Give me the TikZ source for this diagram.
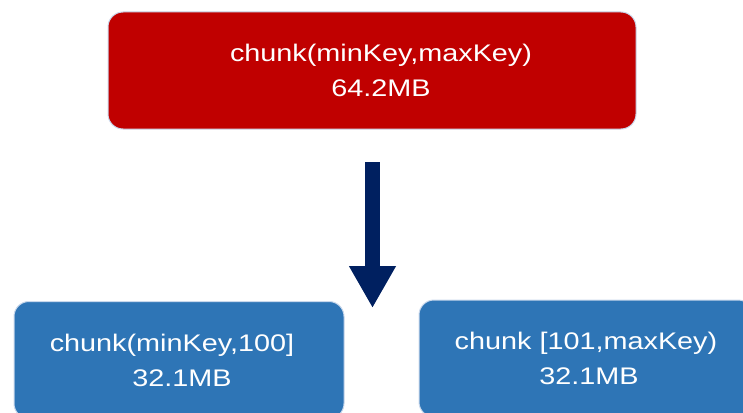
\documentclass[tikz,border=0pt]{standalone}
\usepackage{fontspec}
\setmainfont{Liberation Sans}[FakeStretch=1.2]
\usetikzlibrary{arrows.meta}

\definecolor{chunkred}{HTML}{C00000}
\definecolor{chunkblue}{HTML}{2E75B6}
\definecolor{splitnavy}{HTML}{002060}
\definecolor{chunkhalo}{HTML}{C9D8EC}

\begin{document}
\begin{tikzpicture}[x=1pt, y=-1pt,
  chunkbox/.style={rounded corners=15pt, inner sep=0pt, minimum height=117pt,
    draw=chunkhalo, line width=1pt,
    text=white, align=center, font=\fontsize{24}{35}\selectfont},
  splitarrow/.style={splitnavy, line width=15pt,
    -{Triangle[length=42pt, width=44pt]}}]

 \useasboundingbox (0,0) rectangle (743,412);
 \clip (0,0) rectangle (743,412);

 %%%%%%%%%% Points de la fleche %%%%%%%%%%
 \coordinate (splittop) at (372.5,162);
 \coordinate (splittip) at (372.5,308);

 %%%%%%%%%% Chunk avant le split %%%%%%%%%%
 \node [chunkbox, fill=chunkred, minimum width=528pt] (chunkall) at (372,70.5)
   {\hspace*{18pt}chunk(minKey,maxKey)\\\hspace*{18pt}64.2MB};

 %%%%%%%%%% Chunks apres le split %%%%%%%%%%
 \node [chunkbox, fill=chunkblue, minimum width=330pt] (chunklow) at (179,360)
   {chunk(minKey,100]\hspace*{14pt}\\\hspace*{6pt}32.1MB};
 \node [chunkbox, fill=chunkblue, minimum width=334pt] (chunkhigh) at (586,358.5)
   {chunk [101,maxKey)\\\hspace*{6pt}32.1MB};

 % Split
 \draw [splitarrow] (splittop) -- (splittip);

\end{tikzpicture}
\end{document}
